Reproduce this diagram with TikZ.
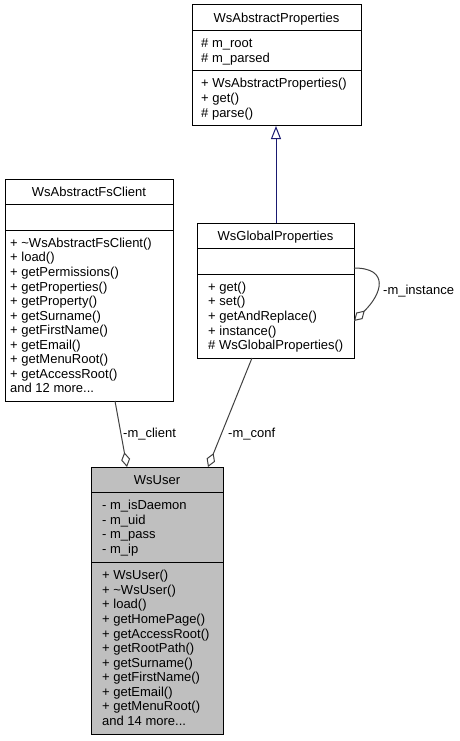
\documentclass[tikz,border=0pt]{standalone}
\usepackage{fontspec}
\setmainfont{Liberation Sans}
\usetikzlibrary{arrows.meta}
\definecolor{edgegrey}{HTML}{404040}
\definecolor{inhblue}{HTML}{191970}
\definecolor{userfill}{HTML}{BFBFBF}
\newcommand\mydots{...}
\newcommand\memberlines[4]{%
  \foreach \t [count=\i from 0] in {#3}
    \node[txt] (#4-\i) at (#1,{#2+14.55*\i}) {\t};}
\begin{document}
\begin{tikzpicture}[x=1pt,y=-1pt,
  box/.style={draw=black, line width=1pt, inner sep=0pt, outer sep=0pt, anchor=north west},
  sepline/.style={draw=black, line width=1pt},
  txt/.style={anchor=base west, inner sep=0pt, font=\fontsize{13}{15}\selectfont},
  ttl/.style={anchor=base, inner sep=0pt, font=\fontsize{13}{15}\selectfont},
  lbl/.style={anchor=base west, inner sep=0pt, font=\fontsize{13}{15}\selectfont},
  agg/.style={draw=edgegrey, line width=1pt, -{Diamond[open, length=15pt, width=9pt, line width=1pt]}},
  inh/.style={draw=inhblue, line width=1pt, -{Triangle[open, length=13pt, width=10pt, line width=1pt]}}
]
\useasboundingbox (0,0) rectangle (460,741);

% ---------- WsAbstractProperties ----------
\node[box, minimum width=169pt, minimum height=121pt] (ap) at (192,5) {};
\draw[sepline] (192,30.55) -- (361,30.55);
\draw[sepline] (192,70.65) -- (361,70.65);
\node[ttl] (apT) at (276.5,22.3) {WsAbstractProperties};
\memberlines{201}{47.85}{\# m\_root,\# m\_parsed}{apA}
\memberlines{201}{87.95}{+ WsAbstractProperties(),+ get(),\# parse()}{apM}

% ---------- WsAbstractFsClient ----------
\node[box, minimum width=168pt, minimum height=222pt] (fc) at (5,179) {};
\draw[sepline] (5,204.55) -- (173,204.55);
\draw[sepline] (5,230.1) -- (173,230.1);
\node[ttl] (fcT) at (89,196.3) {WsAbstractFsClient};
\memberlines{10}{247.4}{+ \textasciitilde WsAbstractFsClient(),+ load(),+ getPermissions(),+ getProperties(),+ getProperty(),+ getSurname(),+ getFirstName(),+ getEmail(),+ getMenuRoot(),+ getAccessRoot(),and 12 more\mydots}{fcM}

% ---------- WsGlobalProperties ----------
\node[box, minimum width=157pt, minimum height=135pt] (gp) at (197,223) {};
\draw[sepline] (197,248.55) -- (354,248.55);
\draw[sepline] (197,274.1) -- (354,274.1);
\node[ttl] (gpT) at (275.5,240.3) {WsGlobalProperties};
\memberlines{208}{291.4}{+ get(),+ set(),+ getAndReplace(),+ instance(),\# WsGlobalProperties()}{gpM}

% ---------- WsUser ----------
\node[box, fill=userfill, minimum width=132pt, minimum height=267pt] (wu) at (91,467) {};
\draw[sepline] (91,492.55) -- (223,492.55);
\draw[sepline] (91,562.5) -- (223,562.5);
\node[ttl] (wuT) at (157,484.3) {WsUser};
\memberlines{102}{509.85}{- m\_isDaemon,- m\_uid,- m\_pass,- m\_ip}{wuA}
\memberlines{102}{579.8}{+ WsUser(),+ \textasciitilde WsUser(),+ load(),+ getHomePage(),+ getAccessRoot(),+ getRootPath(),+ getSurname(),+ getFirstName(),+ getEmail(),+ getMenuRoot(),and 14 more\mydots}{wuM}

% ---------- connectors ----------
\coordinate (gpN) at (276,223);
\coordinate (apS) at (276,126);
\draw[inh] (gpN) -- (apS);

\coordinate (fcS) at (115,401);
\coordinate (wuN1) at (127,467);
\draw[agg] (fcS) -- (wuN1);
\node[lbl] (lclient) at (123,437.5) {-m\_client};

\coordinate (gpS) at (252,358);
\coordinate (wuN2) at (208,467);
\draw[agg] (gpS) -- (wuN2);
\node[lbl] (lconf) at (228,437.5) {-m\_conf};

\coordinate (gpE1) at (354,268);
\coordinate (gpE2) at (354,321);
\draw[agg] (gpE1) .. controls (390,268) and (382,294) .. (gpE2);
\node[lbl] (linst) at (383,294.5) {-m\_instance};
\end{tikzpicture}
\end{document}
